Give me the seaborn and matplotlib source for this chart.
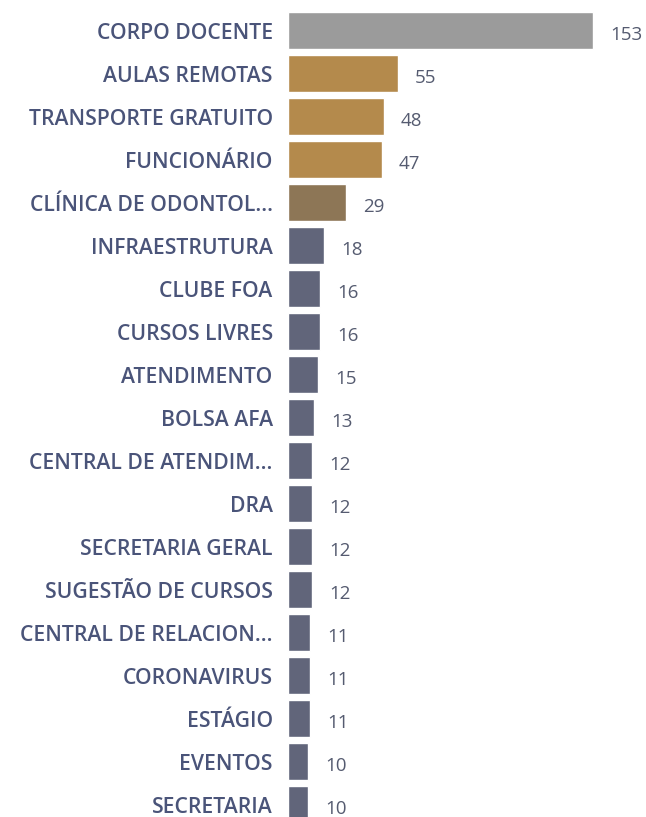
import matplotlib
matplotlib.use("Agg")
import matplotlib.pyplot as plt
import seaborn as sns
import pandas as pd

categories = ["CORPO DOCENTE", "AULAS REMOTAS", "TRANSPORTE GRATUITO", "FUNCIONÁRIO",
              "CLÍNICA DE ODONTOL...", "INFRAESTRUTURA", "CLUBE FOA", "CURSOS LIVRES",
              "ATENDIMENTO", "BOLSA AFA", "CENTRAL DE ATENDIM...", "DRA",
              "SECRETARIA GERAL", "SUGESTÃO DE CURSOS", "CENTRAL DE RELACION...",
              "CORONAVIRUS", "ESTÁGIO", "EVENTOS", "SECRETARIA"]
values = [153, 55, 48, 47, 29, 18, 16, 16, 15, 13, 12, 12, 12, 12, 11, 11, 11, 10, 10]

gray = "#9b9b9b"
gold = "#b48a4c"
brown = "#8d7656"
slate = "#61657a"
colors = [gray, gold, gold, gold, brown] + [slate] * (len(categories) - 5)

df = pd.DataFrame({"cat": categories, "val": values})
palette = dict(zip(categories, colors))

sns.set_theme(style="white")
plt.rcParams['font.family'] = ['Open Sans', 'DejaVu Sans']

fig = plt.figure(figsize=(6.46, 8.17), dpi=100)
ax = fig.add_axes([288/646, 0, 1 - 288/646, 1])

sns.barplot(data=df, y="cat", x="val", hue="cat", palette=palette, legend=False,
            orient="h", width=0.86, saturation=1, ax=ax)

ax.set_xlim(0, 179.6)
ax.set_ylim(18.28, -0.72)
ax.set_xlabel("")
ax.set_ylabel("")
ax.set_xticks([])
for s in ax.spines.values():
    s.set_visible(False)
ax.tick_params(axis="y", length=0, pad=11, labelsize=15.2, labelcolor="#4a5479")
for t in ax.get_yticklabels():
    t.set_fontweight("semibold")

for i, v in enumerate(values):
    ax.annotate(str(v), xy=(v, i), xytext=(17, -4), textcoords="offset pixels",
                ha="left", va="center", fontsize=13.5, color="#555b70")

fig.savefig("out.png", dpi=100)
